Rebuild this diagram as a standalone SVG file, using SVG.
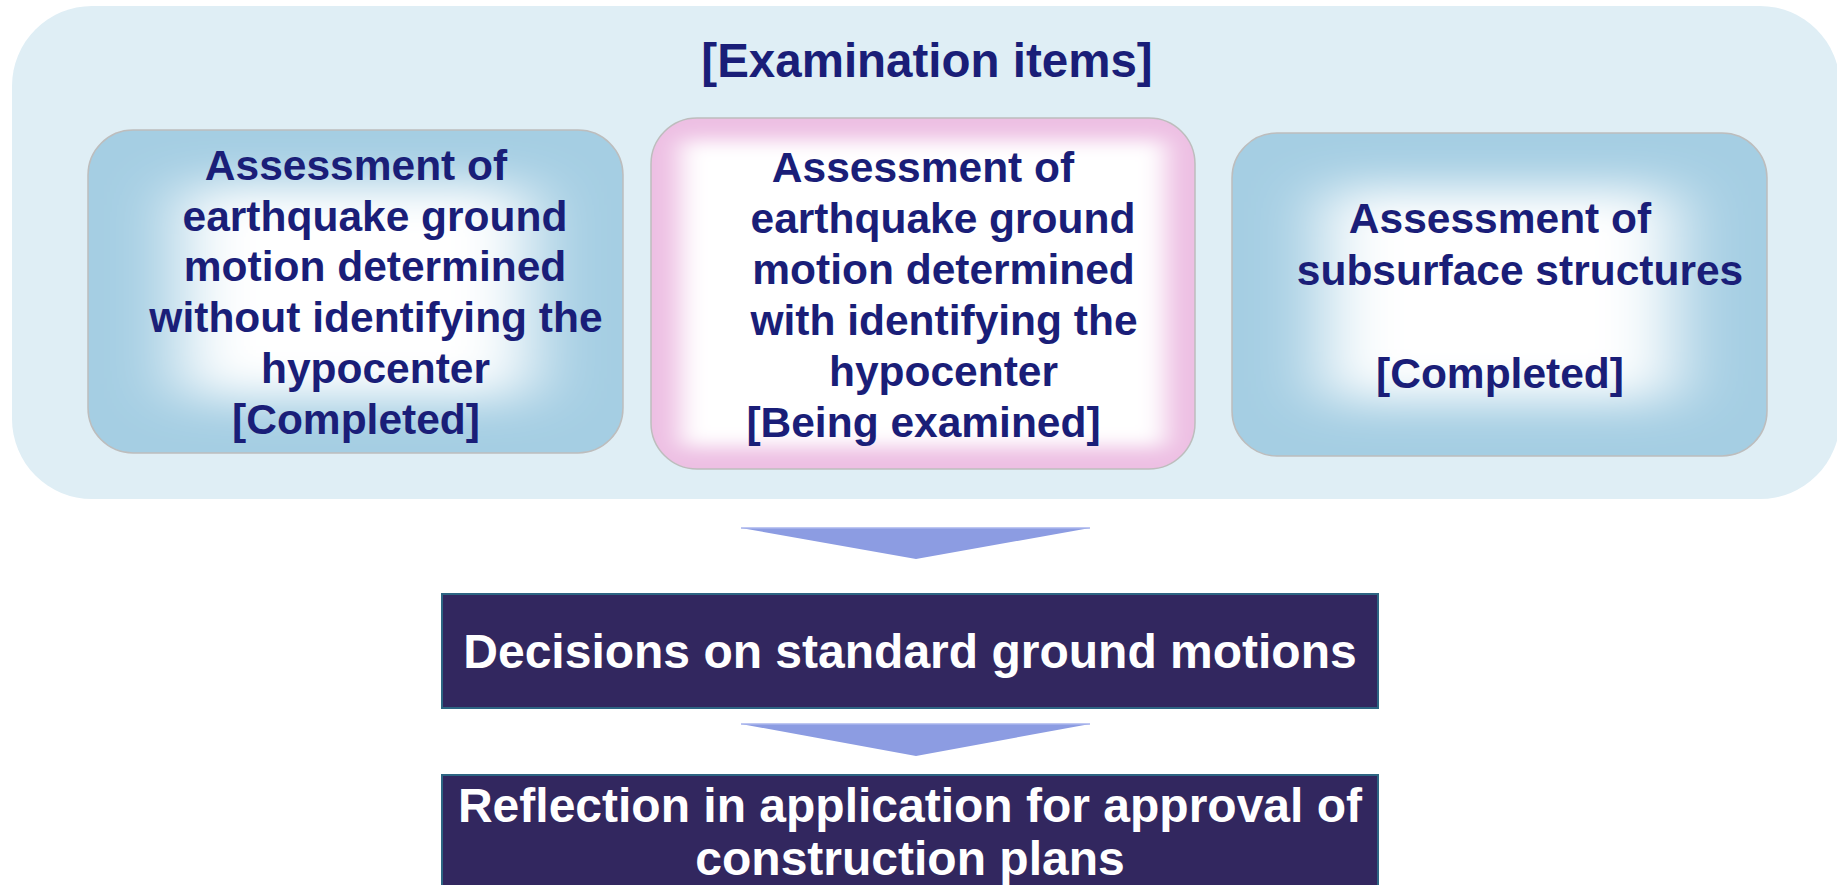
<svg xmlns="http://www.w3.org/2000/svg" width="1837" height="885" viewBox="0 0 1837 885">
  <style>
    .t { font-family: "Liberation Sans", Arial, sans-serif; font-weight: bold; text-anchor: middle; }
    .navy { fill: #1A1E78; }
    .item { font-size: 42.5px; }
    .white { fill: #FFFFFF; font-size: 48px; }
    .dark { fill: #32275F; stroke: #2D6583; stroke-width: 2; }
    .arrow { fill: #8C9CE2; }
    .edge { fill: none; stroke: #BDBDBD; stroke-width: 1.5; }
  </style>
  <defs>
    <filter id="blurBlue" x="-50%" y="-50%" width="200%" height="200%">
      <feGaussianBlur stdDeviation="36 22"/>
    </filter>
    <filter id="blurPink" x="-50%" y="-50%" width="200%" height="200%">
      <feGaussianBlur stdDeviation="13 9"/>
    </filter>
    <clipPath id="clip1"><rect x="88" y="130" width="535" height="323" rx="45" ry="45"/></clipPath>
    <clipPath id="clip2"><rect x="651" y="118" width="544" height="351" rx="46" ry="46"/></clipPath>
    <clipPath id="clip3"><rect x="1232" y="133" width="535" height="323" rx="45" ry="45"/></clipPath>
  </defs>

  <rect width="1837" height="885" fill="#FFFFFF"/>

  <g id="container">
    <rect x="12" y="6" width="1828" height="493" rx="80" ry="80" fill="#DFEEF5"/>
    <text class="t navy" x="927" y="77" font-size="47.5">[Examination items]</text>
  </g>

  <g id="node-without-hypocenter">
    <g clip-path="url(#clip1)">
      <rect x="88" y="130" width="535" height="323" fill="#A5CEE3"/>
      <rect x="180" y="185" width="351" height="213" fill="#FFFFFF" filter="url(#blurBlue)"/>
    </g>
    <rect class="edge" x="88" y="130" width="535" height="323" rx="45" ry="45"/>
    <text class="t navy item" x="356" y="180">Assessment of</text>
    <text class="t navy item" x="375" y="230.7">earthquake ground</text>
    <text class="t navy item" x="375" y="281.4">motion determined</text>
    <text class="t navy item" x="376" y="332.1">without identifying the</text>
    <text class="t navy item" x="375.5" y="382.8">hypocenter</text>
    <text class="t navy item" x="356" y="433.5">[Completed]</text>
  </g>

  <g id="node-with-hypocenter">
    <g clip-path="url(#clip2)">
      <rect x="651" y="118" width="544" height="351" fill="#EDBFE3"/>
      <rect x="680" y="140" width="486" height="307" fill="#FFFFFF" filter="url(#blurPink)"/>
    </g>
    <rect class="edge" x="651" y="118" width="544" height="351" rx="46" ry="46"/>
    <text class="t navy item" x="923" y="182">Assessment of</text>
    <text class="t navy item" x="943" y="233">earthquake ground</text>
    <text class="t navy item" x="943.5" y="284">motion determined</text>
    <text class="t navy item" x="944" y="335">with identifying the</text>
    <text class="t navy item" x="943.5" y="386">hypocenter</text>
    <text class="t navy item" x="923.5" y="437">[Being examined]</text>
  </g>

  <g id="node-subsurface">
    <g clip-path="url(#clip3)">
      <rect x="1232" y="133" width="535" height="323" fill="#A5CEE3"/>
      <rect x="1324" y="188" width="351" height="213" fill="#FFFFFF" filter="url(#blurBlue)"/>
    </g>
    <rect class="edge" x="1232" y="133" width="535" height="323" rx="45" ry="45"/>
    <text class="t navy item" x="1500" y="233">Assessment of</text>
    <text class="t navy item" x="1520" y="285">subsurface structures</text>
    <text class="t navy item" x="1500" y="388">[Completed]</text>
  </g>

  <g id="connectors">
    <polygon class="arrow" points="741,528 1090,528 916,559"/>
    <line x1="741" y1="528" x2="1090" y2="528" stroke="#A9B5EC" stroke-width="1.5"/>
    <polygon class="arrow" points="741,724 1090,724 916,756"/>
    <line x1="741" y1="724" x2="1090" y2="724" stroke="#A9B5EC" stroke-width="1.5"/>
  </g>

  <g id="node-decisions">
    <rect class="dark" x="442" y="594" width="936" height="114"/>
    <text class="t white" x="910" y="668">Decisions on standard ground motions</text>
  </g>

  <g id="node-reflection">
    <rect class="dark" x="442" y="775" width="936" height="130"/>
    <text class="t white" x="910" y="822">Reflection in application for approval of</text>
    <text class="t white" x="910" y="875">construction plans</text>
  </g>
</svg>
